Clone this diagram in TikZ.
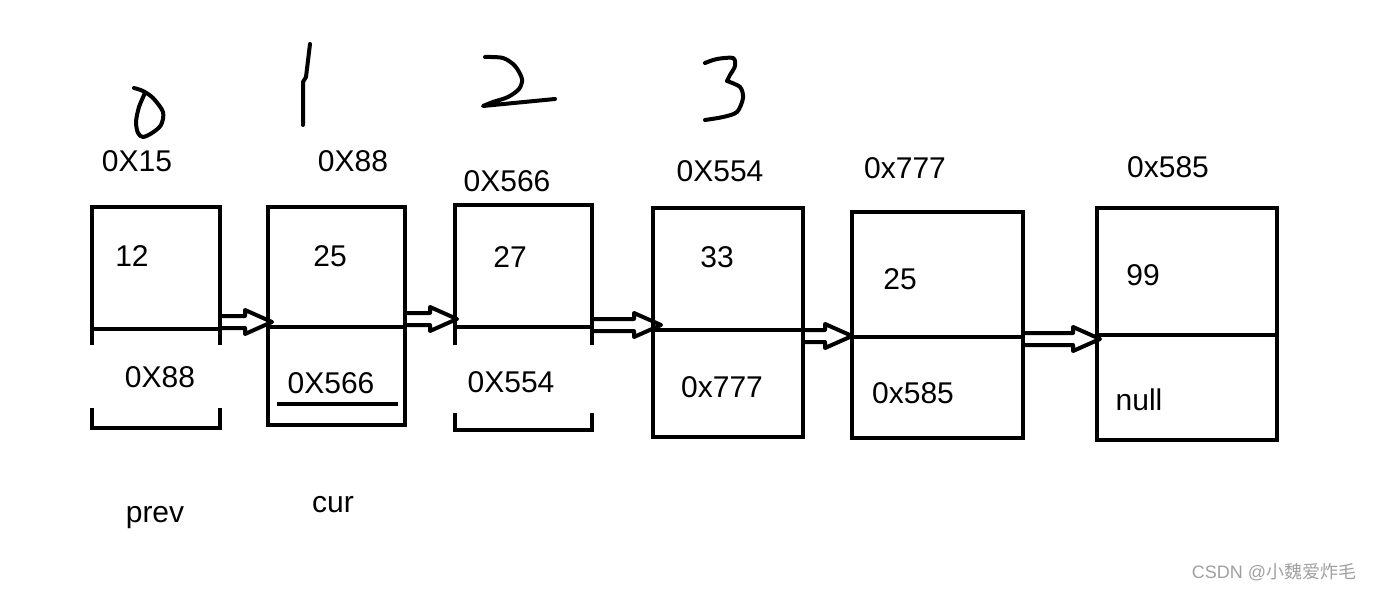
\documentclass[tikz,border=0pt]{standalone}
\usepackage{fontspec}
\setmainfont{Liberation Sans}
\newfontfamily\cjk{Noto Sans CJK SC}
\usetikzlibrary{calc}
\definecolor{markgray}{RGB}{160,160,160}
% hollow link arrow from #1 (start) to #2 (tip)
\newcommand\linkarrow[2]{%
  \draw[arr] ($(#1)+(0,-6)$) -- ($(#2)+(-27,-6)$) -- ($(#2)+(-27,-12)$) -- (#2)
    -- ($(#2)+(-27,12)$) -- ($(#2)+(-27,6)$) -- ($(#1)+(0,6)$);}

\begin{document}
\begin{tikzpicture}[x=0.75pt,y=-0.75pt,font=\fontsize{22.5}{27}\selectfont,
  ln/.style={line width=3.4pt,line join=miter},
  arr/.style={line width=3pt,line join=round},
  hand/.style={line width=3pt,line cap=round,line join=round},
  lbl/.style={anchor=base,inner sep=0pt}]
\useasboundingbox (0,0) rectangle (1376,591);
% handwritten indices
\draw[hand] plot[smooth] coordinates {(134,88) (143,91) (153,98) (163,112) (161,125)
  (152,133) (143,137) (138,133) (136,122) (139,107) (145,93)};
\draw[hand] (310,44) -- (306,77) -- (303,82) -- (303,125);
\draw[hand] plot[smooth] coordinates {(485,57) (503,58) (515,66) (522,79) (519,89)
  (508,97) (493,102) (483,106)} -- (555,99);
\draw[hand] plot[smooth] coordinates {(705,63) (717,59) (733,58) (735,66) (730,75) (727,81)};
\draw[hand] plot[smooth] coordinates {(727,81) (740,87) (743,98) (737,112) (723,117) (705,120)};
% addresses
\node[lbl] (addr0) at (137,172) {0X15};
\node[lbl] (addr1) at (353,172) {0X88};
\node[lbl] (addr2) at (507,192) {0X566};
\node[lbl] (addr3) at (720,182) {0X554};
\node[lbl] (addr4) at (905,179) {0x777};
\node[lbl] (addr5) at (1168,178) {0x585};
% node boxes
\draw[ln] (92,345) -- (92,207) -- (220,207) -- (220,345);
\draw[ln] (92,329) -- (220,329);
\draw[ln] (92,408) -- (92,428) -- (220,428) -- (220,408);
\draw[ln] (268,207) rectangle (405,425);
\draw[ln] (268,327) -- (405,327);
\draw[line width=2.5pt] (277,404) -- (398,404);
\draw[ln] (455,345) -- (455,205) -- (592,205) -- (592,345);
\draw[ln] (455,327) -- (592,327);
\draw[ln] (455,413) -- (455,430) -- (592,430) -- (592,413);
\draw[ln] (653,208) rectangle (803,437);
\draw[ln] (653,330) -- (803,330);
\draw[ln] (852,212) rectangle (1023,438);
\draw[ln] (852,337) -- (1023,337);
\draw[ln] (1097,208) rectangle (1277,440);
\draw[ln] (1097,335) -- (1277,335);
% values and next fields
\node[lbl] (val0) at (132,267) {12};
\node[lbl] (val1) at (330,267) {25};
\node[lbl] (val2) at (510,268) {27};
\node[lbl] (val3) at (717,268) {33};
\node[lbl] (val4) at (900,290) {25};
\node[lbl] (val5) at (1143,286) {99};
\node[lbl] (next0) at (160,387) {0X88};
\node[lbl] (next1) at (331,393) {0X566};
\node[lbl] (next2) at (511,392) {0X554};
\node[lbl] (next3) at (722,397) {0x777};
\node[lbl] (next4) at (913,403) {0x585};
\node[lbl] (next5) at (1139,410) {null};
% links
\coordinate (out0) at (220,322); \coordinate (in1) at (272,322);
\coordinate (out1) at (405,319); \coordinate (in2) at (457,319);
\coordinate (out2) at (592,325); \coordinate (in3) at (661,325);
\coordinate (out3) at (803,336); \coordinate (in4) at (852,336);
\coordinate (out4) at (1023,339); \coordinate (in5) at (1100,339);
\linkarrow{out0}{in1}
\linkarrow{out1}{in2}
\linkarrow{out2}{in3}
\linkarrow{out3}{in4}
\linkarrow{out4}{in5}
% pointers
\node[lbl] (prev) at (155,522) {prev};
\node[lbl] (cur) at (333,512) {cur};
\node[text=markgray,font=\fontsize{13.5}{16}\selectfont,inner sep=0pt] (mark) at (1274,572)
  {CSDN @{\cjk 小魏爱炸毛}};
\end{tikzpicture}
\end{document}
